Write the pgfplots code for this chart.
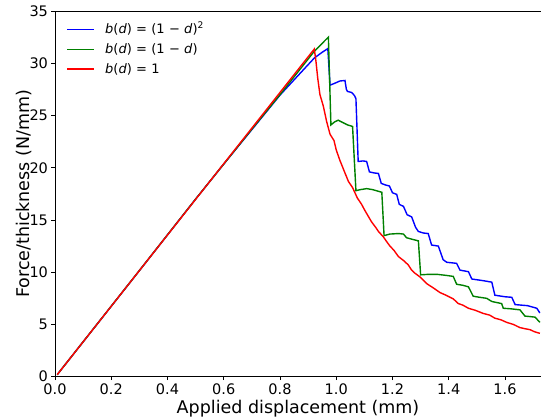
\documentclass[border=0pt]{standalone}
\usepackage{pgfplots}
\pgfplotsset{compat=1.18}
\usepackage{fontspec}
\setmainfont{DejaVu Sans}
\definecolor{mplblue}{rgb}{0,0,1}
\definecolor{mplgreen}{rgb}{0,0.5,0}
\definecolor{mplred}{rgb}{1,0,0}
\newcommand{\msp}{\hspace{0.33em}}
\begin{document}
\begin{tikzpicture}
\useasboundingbox (0,0) rectangle (541pt,420pt);
\begin{axis}[
  at={(55pt,43.3pt)}, anchor=south west,
  scale only axis, width=486pt, height=365.7pt,
  xmin=0, xmax=1.728, ymin=0, ymax=35,
  clip=false,
  axis line style={draw=none},
  xtick={0,0.2,...,1.6}, ytick={0,5,...,35},
  xtick pos=left, ytick pos=left,
  tick align=outside, major tick length=3.5pt,
  every tick/.style={black, line width=0.8pt},
  /pgf/number format/assume math mode=true,
  ticklabel style={font=\fontsize{14.5}{16}\selectfont},
  xticklabel style={/pgf/number format/.cd, fixed, fixed zerofill, precision=1},
  yticklabel style={/pgf/number format/.cd, fixed, precision=0},
  xlabel={Applied displacement (mm)},
  ylabel={Force/thickness (N/mm)},
  label style={font=\fontsize{17.5}{20}\selectfont},
  xlabel style={at={(axis description cs:0.5,-0.088)}, anchor=center},
  ylabel style={at={(axis description cs:-0.064,0.5)}, anchor=center},
]
\addplot[mplblue, line width=1.4pt] coordinates {
(0.008,0.2) (0.3,10.15) (0.5,17.0) (0.6,20.35) (0.7,23.65) (0.8,26.95) (0.86,28.7) (0.922,30.5) (0.95,31.05) (0.970,31.4)
(0.978,27.9) (0.996,28.1) (1.013,28.3) (1.031,28.35) (1.036,27.5) (1.040,27.3) (1.055,27.2) (1.065,26.9) (1.070,26.6)
(1.078,20.6) (1.095,20.65) (1.108,20.6) (1.118,19.6) (1.135,19.5) (1.150,19.45) (1.160,18.5) (1.175,18.35) (1.189,18.25)
(1.200,17.6) (1.215,17.45) (1.224,16.5) (1.239,16.3) (1.252,15.5) (1.268,15.3) (1.282,14.3) (1.292,13.9) (1.310,13.75)
(1.327,13.7) (1.339,12.6) (1.363,12.5) (1.380,11.2) (1.393,10.95) (1.428,10.85) (1.440,10.2) (1.470,10.05) (1.482,9.35)
(1.520,9.2) (1.553,9.05) (1.564,7.8) (1.600,7.65) (1.624,7.6) (1.636,6.9) (1.680,6.8) (1.713,6.55) (1.724,6.1)
};
\addplot[mplgreen, line width=1.4pt] coordinates {
(0.008,0.2) (0.3,10.16) (0.5,17.0) (0.6,20.35) (0.7,23.7) (0.8,27.0) (0.922,31.15) (0.972,32.5)
(0.981,24.1) (0.995,24.4) (1.007,24.55) (1.025,24.3) (1.040,24.1) (1.058,23.95)
(1.070,17.8) (1.085,17.9) (1.108,18.0) (1.130,17.9) (1.162,17.65)
(1.170,13.5) (1.190,13.65) (1.221,13.7) (1.239,13.65) (1.250,13.3) (1.270,13.15) (1.292,13.0)
(1.300,9.75) (1.330,9.8) (1.357,9.8) (1.390,9.7) (1.416,9.6) (1.428,8.85) (1.450,8.75) (1.470,8.6)
(1.487,7.7) (1.510,7.6) (1.535,7.5) (1.553,7.2) (1.570,7.1) (1.588,7.0) (1.594,6.55) (1.620,6.5) (1.653,6.4)
(1.671,5.8) (1.690,5.75) (1.707,5.7) (1.724,5.2)
};
\addplot[mplred, line width=1.4pt] coordinates {
(0.008,0.2) (0.922,31.36)
(0.928,30.15) (0.934,28.6) (0.942,27.0) (0.954,25.9) (0.966,24.4) (0.978,23.2) (0.992,22.6) (1.000,21.7)
(1.013,20.7) (1.028,19.7) (1.043,18.7) (1.058,18.1) (1.075,17.1) (1.090,16.5) (1.102,15.9) (1.115,15.3)
(1.126,14.8) (1.140,14.3) (1.150,13.9) (1.167,13.4) (1.180,12.9) (1.191,12.5) (1.205,12.1) (1.221,11.5)
(1.240,11.1) (1.256,10.7) (1.268,10.2) (1.280,9.9) (1.300,9.5) (1.322,8.9) (1.345,8.5) (1.369,8.05)
(1.390,7.8) (1.416,7.45) (1.434,7.0) (1.450,6.85) (1.470,6.55) (1.495,6.35) (1.523,6.05) (1.545,5.9)
(1.564,5.6) (1.585,5.45) (1.606,5.2) (1.630,5.0) (1.653,4.7) (1.670,4.6) (1.689,4.5) (1.705,4.3) (1.724,4.15)
};
% legend
\draw[mplblue, line width=1.4pt] (axis description cs:0.0247,0.950) -- (axis description cs:0.0802,0.950);
\draw[mplgreen, line width=1.4pt] (axis description cs:0.0247,0.8953) -- (axis description cs:0.0802,0.8953);
\draw[mplred, line width=1.4pt] (axis description cs:0.0247,0.8414) -- (axis description cs:0.0802,0.8414);
\node[anchor=base west, inner sep=0pt, font=\fontsize{13}{15}\selectfont] at (axis description cs:0.1029,0.939)
  {\textit{b}(\textit{d})\msp=\msp(1\msp−\msp\textit{d})\textsuperscript{2}};
\node[anchor=base west, inner sep=0pt, font=\fontsize{13}{15}\selectfont] at (axis description cs:0.1029,0.8843)
  {\textit{b}(\textit{d})\msp=\msp(1\msp−\msp\textit{d})};
\node[anchor=base west, inner sep=0pt, font=\fontsize{13}{15}\selectfont] at (axis description cs:0.1029,0.8304)
  {\textit{b}(\textit{d})\msp=\msp1};
\draw[black, line width=0.8pt] (rel axis cs:1,1) -- (rel axis cs:0,1) -- (rel axis cs:0,0) -- (rel axis cs:1,0);
\end{axis}
\end{tikzpicture}
\end{document}
